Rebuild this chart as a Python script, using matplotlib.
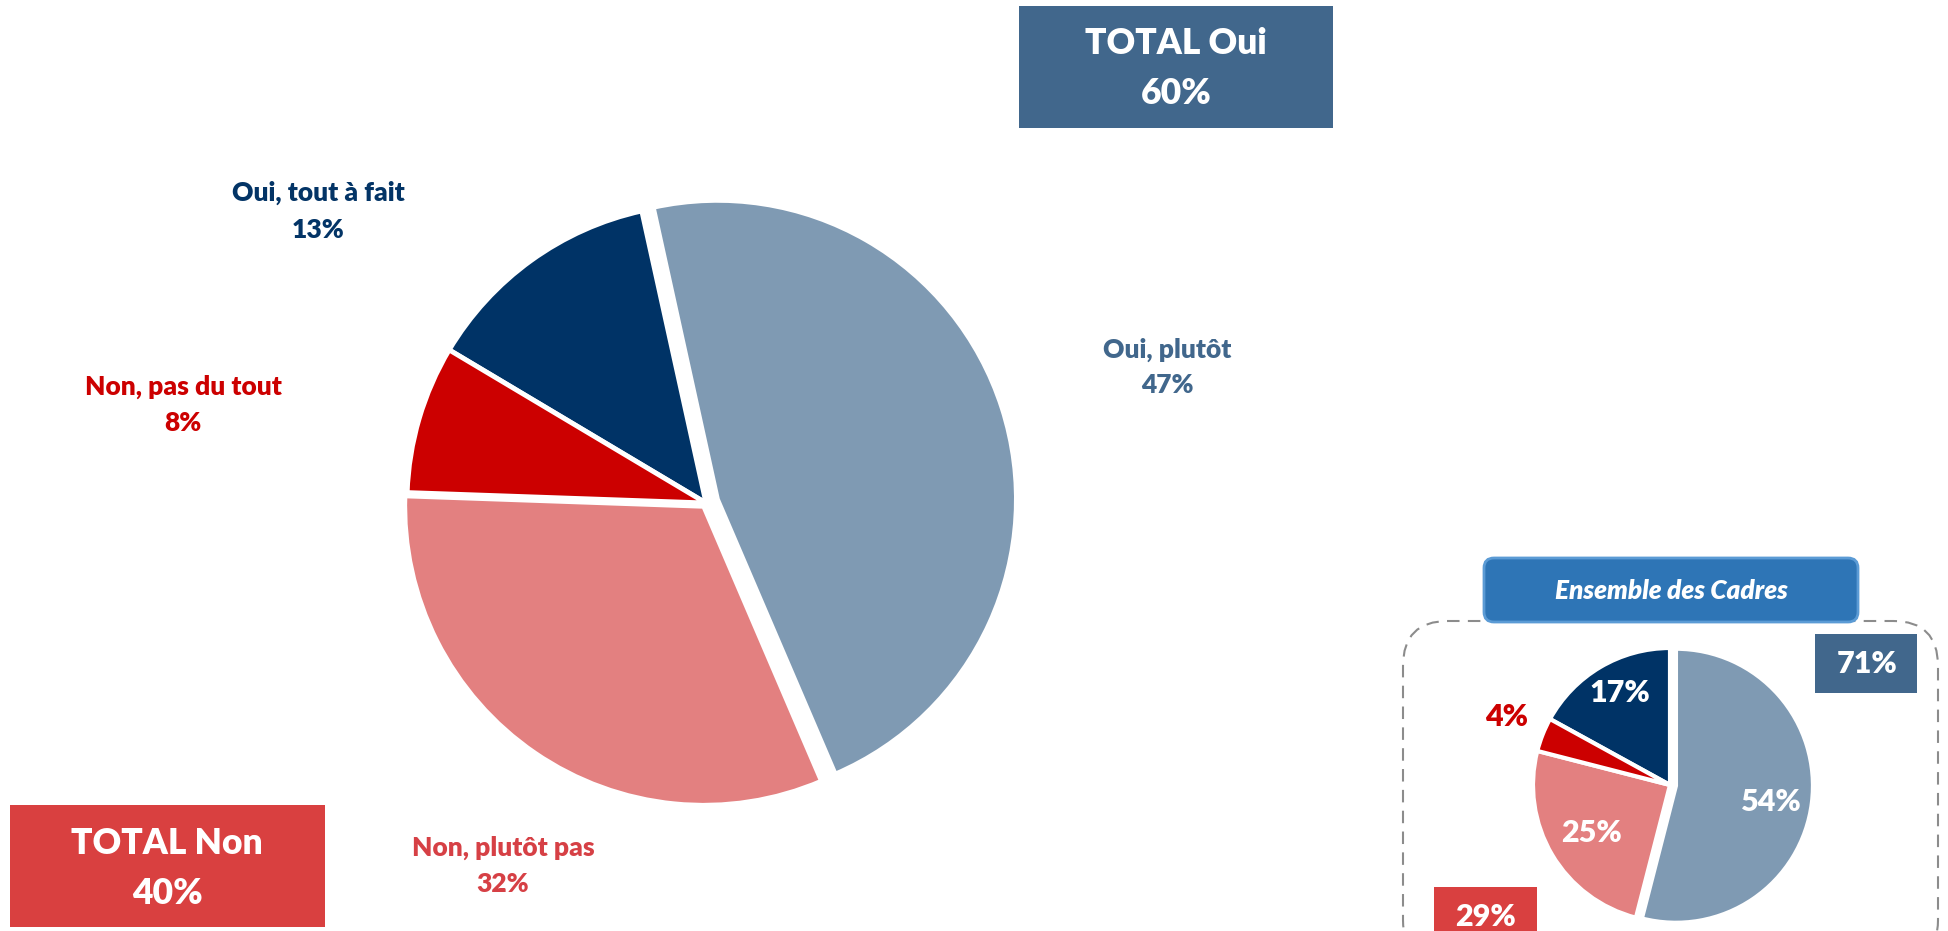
import matplotlib.pyplot as plt
from matplotlib.patches import FancyBboxPatch, Rectangle

# data
labels = ["Oui, tout à fait", "Oui, plutôt", "Non, plutôt pas", "Non, pas du tout"]
main_vals = [13, 47, 32, 8]
cadres_vals = [17, 54, 25, 4]
total_oui, total_non = 60, 40
cadres_oui, cadres_non = 71, 29

colors = ["#003366", "#7F9AB3", "#E38080", "#CC0000"]
label_colors = ["#033466", "#41678C", "#D64045", "#CC0000"]
blue_box = "#41678C"
red_box = "#D94040"

plt.rcParams['font.family'] = ['Lato', 'DejaVu Sans']

W, H = 1948, 931
fig = plt.figure(figsize=(W / 100, H / 100), dpi=100)
ax = fig.add_axes([0, 0, 1, 1])

def Y(y):
    # pixel row (from top) -> data y
    return H - y

def txt(x, y, s, color, size, **kw):
    ax.text(x, Y(y), s, color=color, fontsize=size, fontweight='heavy',
            ha='center', va='center', **kw)

##################### main pie (navy slice ends 12.4 deg left of top, clockwise)
ax.pie(main_vals, colors=colors, startangle=90 + 12.4 + main_vals[0] * 3.6,
       counterclock=False, explode=[0, 12, 4, 0],
       center=(706, Y(503)), radius=299, frame=True,
       wedgeprops=dict(edgecolor='white', linewidth=3.5))

txt(318, 193, labels[0], label_colors[0], 19)
txt(318, 230, f"{main_vals[0]}%", label_colors[0], 19)
txt(1167, 350, labels[1], label_colors[1], 19)
txt(1167, 385, f"{main_vals[1]}%", label_colors[1], 19)
txt(503, 848, labels[2], label_colors[2], 19)
txt(503, 884, f"{main_vals[2]}%", label_colors[2], 19)
txt(183, 387, labels[3], label_colors[3], 19)
txt(183, 423, f"{main_vals[3]}%", label_colors[3], 19)

##################### total boxes
ax.add_patch(Rectangle((1019, Y(128)), 314, 122, color=blue_box, lw=0))
txt(1176, 43, "TOTAL Oui", "white", 25.5)
txt(1176, 93, f"{total_oui}%", "white", 25.5)
ax.add_patch(Rectangle((10, Y(927)), 315, 122, color=red_box, lw=0))
txt(167, 843, "TOTAL Non", "white", 25.5)
txt(167, 894, f"{total_non}%", "white", 25.5)

##################### Ensemble des Cadres inset
ax.add_patch(FancyBboxPatch((1403, Y(965)), 535, 344,
             boxstyle="round,pad=0,rounding_size=45", fill=False,
             edgecolor="#8C8C8C", lw=1.5, linestyle=(0, (6, 4)), zorder=2))
ax.add_patch(FancyBboxPatch((1484, Y(622)), 374, 64,
             boxstyle="round,pad=0,rounding_size=10", facecolor="#2E75B6",
             edgecolor="#5B9BD5", lw=2, zorder=3))
txt(1671, 591, "Ensemble des Cadres", "white", 18.8, style='italic', zorder=4)

ax.pie(cadres_vals, colors=colors, startangle=90 + cadres_vals[0] * 3.6,
       counterclock=False, explode=[0, 6, 0, 0],
       center=(1670, Y(785)), radius=137, frame=True,
       wedgeprops=dict(edgecolor='white', linewidth=3))
txt(1620, 693, f"{cadres_vals[0]}%", "white", 22)
txt(1771, 802, f"{cadres_vals[1]}%", "white", 22)
txt(1591, 833, f"{cadres_vals[2]}%", "white", 22)
txt(1507, 717, f"{cadres_vals[3]}%", "#CC0000", 22)

ax.add_patch(Rectangle((1815, Y(693)), 102, 59, color=blue_box, lw=0, zorder=3))
txt(1867, 664, f"{cadres_oui}%", "white", 22, zorder=4)
ax.add_patch(Rectangle((1434, Y(940)), 103, 53, color=red_box, lw=0, zorder=3))
txt(1485, 917, f"{cadres_non}%", "white", 22, zorder=4)

ax.set_xlim(0, W)
ax.set_ylim(0, H)
ax.set_aspect('auto')
ax.axis('off')

fig.savefig("out.png", dpi=100)
